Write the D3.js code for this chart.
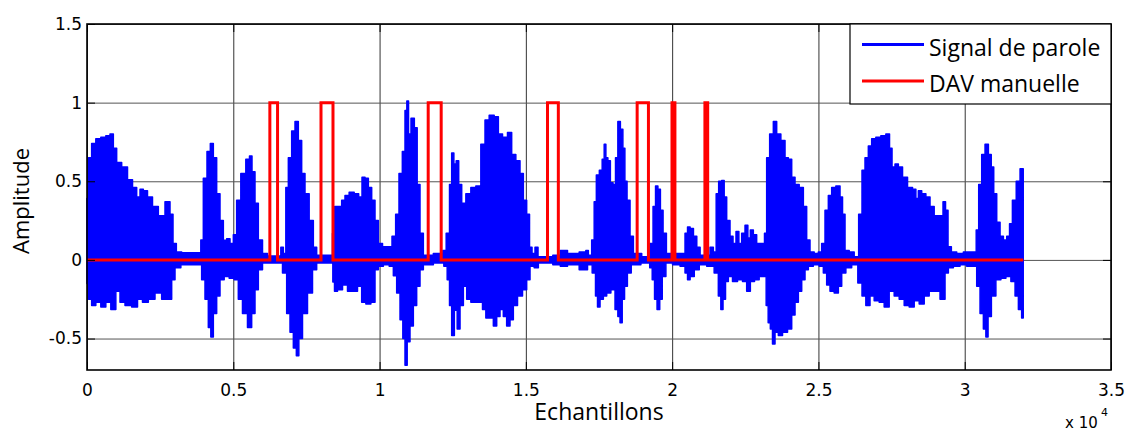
<!DOCTYPE html>
<html>
  <head>
    <meta charset="utf-8">
    <title>Signal de parole / DAV</title>
    <script src="https://d3js.org/d3.v7.min.js"></script>
    <style>
      body { margin: 0; background: #fff; }
      text { fill: #000; }
    </style>
  </head>

  <body>
    <script>
      // sample positions and amplitudes of the upper envelope of the speech signal
      var topX = [0,102,216,387,558,729,843,957,1071,1299,1470,1641,1755,1869,1982,2153,2324,2552,2780,2894,2985,3122,3350,3862,3919,4033,4170,4261,4375,4489,4603,4717,4831,4945,5059,5172,5343,5514,5594,5685,5799,5913,6084,6255,6597,6654,6768,6825,6939,7053,7166,7280,7394,7508,7679,7793,7907,
        8363,8420,8511,8648,8761,8875,9046,9217,9354,9446,9560,9673,9787,9901,10015,10186,10357,10493,10607,10721,10835,10904,10961,11018,11131,11245,11325,11439,11553,12123,12203,12351,12431,12499,12579,12659,12750,12864,13035,13205,13376,13547,13661,13832,14003,14117,14287,14458,14572,14743,14857,14971,15085,15165,15256,15370,15461,15711,
        16133,16224,16623,17022,17079,17193,17307,17364,17455,17569,17649,17706,17763,17843,17934,18025,18105,18185,18276,18356,18413,18504,18618,18732,19188,19302,19393,19473,19553,19644,19735,19872,20157,20385,20496,20557,20671,20785,20899,21013,21240,21350,21466,21545,21636,21750,21807,21921,22035,22126,22240,22320,22434,22548,22627,22718,22832,22946,23117,23197,23265,23402,23516,23630,23801,23915,24029,
        24143,24257,24428,24541,24655,24769,24940,25054,25168,25282,25396,25510,25681,25795,25852,25966,26137,26307,26444,26535,26649,26763,26877,27048,27219,27390,27470,27561,27675,27789,27960,28131,28302,28359,28473,28587,28758,28871,29042,29213,29304,29384,29475,29612,29840,30068,30353,30433,30524,30638,30752,30866,30946,31037,31151,31265,31379,31493,31573,31687,31835,31949,32000];
      var topY = [0.39,0.65,0.74,0.77,0.78,0.79,0.80,0.71,0.62,0.59,0.51,0.46,0.40,0.45,0.44,0.40,0.34,0.28,0.37,0.29,0.105,0.05,0.045,0.045,0.126,0.52,0.69,0.74,0.65,0.42,0.25,0.125,0.135,0.105,0.16,0.38,0.55,0.64,0.66,0.56,0.36,0.126,0.04,0.025,0.025,0.08,0.04,0.46,0.65,0.82,0.88,0.76,0.55,0.42,0.25,0.08,0.03,
        0.03,0.17,0.34,0.34,0.38,0.41,0.43,0.42,0.40,0.525,0.52,0.46,0.38,0.25,0.105,0.084,0.084,0.15,0.29,0.55,0.69,0.95,1.01,0.80,0.90,0.84,0.48,0.17,0.03,0.04,0.06,0.17,0.48,0.68,0.61,0.63,0.48,0.36,0.42,0.46,0.47,0.735,0.89,0.92,0.91,0.80,0.78,0.81,0.67,0.63,0.55,0.38,0.29,0.08,0.04,0.08,0.02,0.02,
        0.03,0.06,0.04,0.05,0.06,0.03,0.126,0.37,0.54,0.57,0.64,0.735,0.65,0.63,0.49,0.48,0.65,0.88,0.83,0.71,0.50,0.38,0.15,0.04,0.02,0.105,0.34,0.47,0.45,0.315,0.17,0.04,0.04,0.04,0.17,0.21,0.20,0.15,0.08,0.03,0.03,0.08,0.05,0.42,0.50,0.505,0.40,0.25,0.15,0.105,0.18,0.105,0.17,0.22,0.14,0.19,0.16,0.105,0.105,0.17,0.65,0.80,0.88,0.80,0.76,0.65,0.64,
        0.525,0.48,0.46,0.34,0.126,0.05,0.04,0.05,0.105,0.315,0.41,0.46,0.47,0.40,0.29,0.06,0.05,0.02,0.29,0.57,0.65,0.725,0.77,0.78,0.79,0.80,0.71,0.59,0.61,0.59,0.525,0.46,0.45,0.39,0.44,0.42,0.40,0.34,0.28,0.28,0.37,0.315,0.084,0.05,0.04,0.05,0.05,0.19,0.48,0.67,0.735,0.67,0.59,0.42,0.24,0.15,0.126,0.15,0.23,0.38,0.50,0.58,0.58];

      // lower envelope
      var botX = [0,102,216,387,558,729,900,1071,1185,1413,1641,1812,1982,2210,2438,2666,2837,2951,3065,3350,3862,3976,4090,4204,4261,4375,4489,4603,4774,4945,5115,5229,5400,5571,5685,5799,5913,6084,6597,6768,6882,6996,7110,7201,7280,7451,7622,7793,7907,
        8363,8443,8477,8648,8819,8989,9160,9331,9446,9617,9787,9901,10015,10243,10414,10528,10642,10756,10835,10904,10983,11097,11211,11325,11439,11553,12123,12271,12351,12431,12499,12613,12693,12807,12921,13035,13205,13433,13604,13661,13832,13946,14060,14173,14287,14401,14515,14629,14800,14971,15085,15199,15370,15484,15711,
        16133,16224,16623,17022,17193,17341,17421,17478,17592,17706,17820,17991,18105,18185,18253,18333,18413,18527,18675,19188,19279,19359,19439,19530,19621,19701,19872,20157,20385,20496,20557,20671,20842,21013,21350,21522,21636,21693,21784,21864,21978,22149,22320,22491,22605,22741,22889,23060,23174,23254,23311,23402,23459,23573,23687,23858,24029,
        24143,24257,24371,24485,24598,24712,24940,25111,25225,25339,25453,25624,25738,25852,26023,26250,26444,26535,26706,26820,26991,27162,27333,27504,27675,27846,28017,28188,28359,28530,28701,28871,29042,29270,29384,29498,29726,29954,30182,30353,30467,30581,30695,30752,30843,30980,31151,31322,31493,31664,31778,31892,32000];
      var botY = [-0.15,-0.25,-0.29,-0.27,-0.30,-0.27,-0.315,-0.20,-0.27,-0.29,-0.30,-0.25,-0.27,-0.25,-0.21,-0.25,-0.25,-0.126,-0.05,-0.03,-0.03,-0.126,-0.25,-0.43,-0.49,-0.34,-0.23,-0.126,-0.105,-0.116,-0.126,-0.25,-0.34,-0.43,-0.34,-0.19,-0.063,-0.02,-0.02,-0.084,-0.34,-0.46,-0.56,-0.61,-0.50,-0.34,-0.21,-0.063,-0.02,
        -0.02,-0.14,-0.20,-0.19,-0.16,-0.20,-0.20,-0.168,-0.27,-0.28,-0.27,-0.063,-0.04,-0.03,-0.04,-0.10,-0.21,-0.38,-0.50,-0.67,-0.52,-0.42,-0.29,-0.168,-0.063,-0.03,-0.02,-0.04,-0.126,-0.29,-0.48,-0.32,-0.44,-0.29,-0.168,-0.25,-0.27,-0.27,-0.315,-0.37,-0.37,-0.42,-0.36,-0.315,-0.36,-0.42,-0.38,-0.29,-0.23,-0.19,-0.126,-0.04,-0.05,-0.02,-0.02,
        -0.03,-0.04,-0.03,-0.063,-0.03,-0.084,-0.23,-0.30,-0.25,-0.23,-0.21,-0.19,-0.315,-0.36,-0.40,-0.25,-0.168,-0.084,-0.03,-0.02,-0.05,-0.126,-0.25,-0.315,-0.25,-0.105,-0.02,-0.03,-0.04,-0.084,-0.126,-0.105,-0.063,-0.03,-0.04,-0.084,-0.23,-0.315,-0.25,-0.137,-0.105,-0.137,-0.126,-0.137,-0.20,-0.137,-0.126,-0.105,-0.105,-0.29,-0.40,-0.44,-0.535,-0.46,-0.48,-0.46,-0.44,
        -0.35,-0.27,-0.20,-0.126,-0.063,-0.04,-0.03,-0.04,-0.084,-0.16,-0.20,-0.21,-0.168,-0.084,-0.05,-0.03,-0.147,-0.23,-0.29,-0.23,-0.26,-0.27,-0.30,-0.20,-0.23,-0.25,-0.29,-0.30,-0.26,-0.28,-0.23,-0.20,-0.20,-0.25,-0.084,-0.05,-0.04,-0.03,-0.04,-0.04,-0.168,-0.34,-0.44,-0.49,-0.36,-0.23,-0.126,-0.116,-0.105,-0.137,-0.23,-0.315,-0.37];

      // manual voice activity detection: start / end sample of each segment
      var vadStart = [6250, 7998, 11662, 15740, 18804, 19995, 21120];
      var vadEnd   = [6513, 8408, 12106, 16110, 19190, 20095, 21215];
      var nSamples = 32000;

      var xTicks = [0, 5000, 10000, 15000, 20000, 25000, 30000, 35000];
      var xTickLabels = ["0", "0.5", "1", "1.5", "2", "2.5", "3", "3.5"];
      var yTicks = [-0.5, 0, 0.5, 1, 1.5];
      var yTickLabels = ["-0.5", "0", "0.5", "1", "1.5"];

      var width = 1129, height = 432;
      var pl = 87, pr = 1111, pt = 24, pb = 370;

      var svg = d3.select("body").append("svg")
          .attr("width", width)
          .attr("height", height);

      var x = d3.scaleLinear().domain([0, 35000]).range([pl, pr]);
      var y = d3.scaleLinear().domain([-0.7, 1.5]).range([pb, pt]);

      // grid
      svg.append("g")
          .attr("transform", "translate(0," + pb + ")")
          .call(d3.axisBottom(x).tickValues(xTicks).tickSize(-(pb - pt)).tickFormat(""))
          .call(g => g.select(".domain").remove())
          .selectAll("line").attr("stroke", "#333").attr("stroke-width", 1);
      svg.append("g")
          .attr("transform", "translate(" + pl + ",0)")
          .call(d3.axisLeft(y).tickValues(yTicks).tickSize(-(pr - pl)).tickFormat(""))
          .call(g => g.select(".domain").remove())
          .selectAll("line").attr("stroke", "#555").attr("stroke-width", 1);

      // speech signal as its filled envelope
      var pts = topX.map((d, i) => [d, topY[i]]);
      for (var i = botX.length - 1; i >= 0; i--) pts.push([botX[i], botY[i]]);
      var line = d3.line().x(d => x(d[0])).y(d => y(d[1]));
      var stepLine = d3.line().x(d => x(d[0])).y(d => y(d[1])).curve(d3.curveStep);
      svg.append("path")
          .attr("d", stepLine(pts) + "Z")
          .attr("fill", "#0000ff")
          .attr("stroke", "#0000ff")
          .attr("stroke-width", 1.5)
          .attr("stroke-linejoin", "round");

      // VAD square wave
      var vad = [[0, 0]];
      vadStart.forEach(function(s, i) {
        vad.push([s, 0], [s, 1], [vadEnd[i], 1], [vadEnd[i], 0]);
      });
      vad.push([nSamples, 0]);
      svg.append("path")
          .attr("d", line(vad))
          .attr("fill", "none")
          .attr("stroke", "#ff0000")
          .attr("stroke-width", 3);

      // axes, inward ticks, box
      var tickFont = "'DejaVu Sans', sans-serif";
      svg.append("g")
          .attr("class", "ax")
          .attr("transform", "translate(0," + pb + ")")
          .call(d3.axisBottom(x).tickValues(xTicks).tickSize(-8).tickPadding(14)
            .tickFormat((d, i) => xTickLabels[i]));
      svg.append("g")
          .attr("class", "ax")
          .attr("transform", "translate(" + pl + ",0)")
          .call(d3.axisLeft(y).tickValues(yTicks).tickSize(-8).tickPadding(5)
            .tickFormat((d, i) => yTickLabels[i]));
      svg.append("g")
          .attr("class", "ax")
          .attr("transform", "translate(0," + pt + ")")
          .call(d3.axisTop(x).tickValues(xTicks).tickSize(-8).tickFormat(""));
      svg.append("g")
          .attr("class", "ax")
          .attr("transform", "translate(" + pr + ",0)")
          .call(d3.axisRight(y).tickValues(yTicks).tickSize(-8).tickFormat(""));
      svg.selectAll(".ax .domain").remove();
      svg.selectAll(".ax .tick text")
          .style("font-family", tickFont)
          .style("font-size", "17px")
          .attr("fill", "#000");
      svg.selectAll(".ax .tick line").attr("stroke", "#000");

      svg.append("rect")
          .attr("x", pl).attr("y", pt)
          .attr("width", pr - pl).attr("height", pb - pt)
          .attr("fill", "none")
          .attr("stroke", "#000")
          .attr("stroke-width", 1.6);

      // labels
      var labelFont = "'Open Sans', 'Noto Sans', sans-serif";
      svg.append("text")
          .attr("x", 599).attr("y", 420)
          .attr("text-anchor", "middle")
          .style("font-family", labelFont).style("font-size", "23px")
          .text("Echantillons");
      svg.append("text")
          .attr("transform", "translate(29,201) rotate(-90)")
          .attr("text-anchor", "middle")
          .style("font-family", labelFont).style("font-size", "22px")
          .text("Amplitude");
      svg.append("text")
          .attr("x", 1065).attr("y", 428)
          .style("font-family", tickFont).style("font-size", "15px")
          .text("x 10");
      svg.append("text")
          .attr("x", 1101).attr("y", 416)
          .style("font-family", tickFont).style("font-size", "11px")
          .text("4");

      // legend
      var legend = svg.append("g");
      legend.append("rect")
          .attr("x", 850).attr("y", pt)
          .attr("width", pr - 850).attr("height", 80)
          .attr("fill", "#fff")
          .attr("stroke", "#000")
          .attr("stroke-width", 1.2);
      [["Signal de parole", "#0000ff", 44.5], ["DAV manuelle", "#ff0000", 81]].forEach(function(e) {
        legend.append("line")
            .attr("x1", 862).attr("x2", 924)
            .attr("y1", e[2]).attr("y2", e[2])
            .attr("stroke", e[1]).attr("stroke-width", 3);
        legend.append("text")
            .attr("x", 929).attr("y", e[2] + 11)
            .style("font-family", labelFont).style("font-size", "23px")
            .text(e[0]);
      });
    </script>
  </body>
</html>
